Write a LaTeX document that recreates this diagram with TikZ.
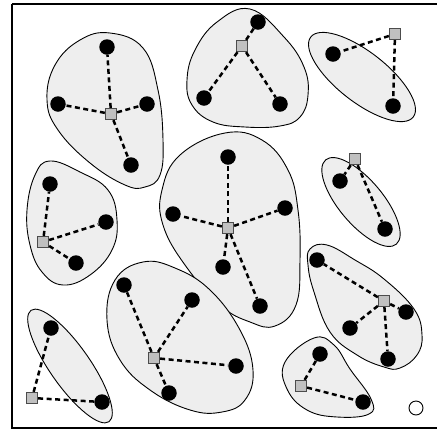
\documentclass[tikz,border=0pt]{standalone}
\usetikzlibrary{calc}
\definecolor{blobfill}{HTML}{EEEEEE}
\definecolor{hubfill}{HTML}{C0C0C0}
\tikzset{
  blob/.style={draw=black, fill=blobfill, line width=0.9pt},
  dotnode/.style={circle, fill=black, inner sep=0pt, minimum size=15.5pt},
  hub/.style={rectangle, draw=black!70, fill=hubfill, line width=0.8pt, inner sep=0pt, minimum size=11.5pt},
  link/.style={line width=2.5pt, dash pattern=on 5pt off 3.5pt},
}
\begin{document}
\begin{tikzpicture}[x=1pt,y=-1pt]
\useasboundingbox (0,0) rectangle (437,432);
\draw[line width=1.2pt] (12,4) -- (440,4) (12,4) -- (12,428) -- (440,428);
% blobs
\draw[blob] plot[smooth cycle, tension=0.7] coordinates {(110,33) (143,48) (158,90) (163,140) (160,175) (145,187) (125,185) (90,163) (58,130) (47,100) (55,65) (80,40)};
\draw[blob] plot[smooth cycle, tension=0.7] coordinates {(187,80) (195,50) (217,22) (250,9) (284,37) (304,67) (308,95) (300,117) (280,126) (245,127) (213,122) (192,105)};
\draw[blob, rotate around={-38:(362,77)}] (362,77) ellipse [x radius=65, y radius=25];
\draw[blob] plot[smooth cycle, tension=0.7] coordinates {(50,161) (80,172) (108,190) (117,220) (112,250) (90,275) (63,285) (42,272) (30,245) (27,210) (35,175)};
\draw[blob] plot[smooth cycle, tension=0.7] coordinates {(225,133) (262,140) (288,170) (298,210) (300,260) (296,305) (275,326) (250,322) (220,305) (185,265) (163,225) (162,190) (180,155)};
\draw[blob, rotate around={-50:(361,202)}] (361,202) ellipse [x radius=55, y radius=22];
\draw[blob] plot[smooth cycle, tension=0.7] coordinates {(310,249) (327,245) (355,260) (384,279) (414,309) (422,335) (417,355) (400,368) (384,367) (357,355) (330,332) (314,292) (308,265)};
\draw[blob] plot[smooth cycle, tension=0.7] coordinates {(143,262) (175,268) (210,290) (240,330) (253,370) (245,400) (222,412) (190,410) (150,390) (120,360) (107,320) (115,280)};
\draw[blob, rotate around={-55:(70,366)}] (70,366) ellipse [x radius=68, y radius=20];
\draw[blob] plot[smooth cycle, tension=0.7] coordinates {(314,338) (334,345) (350,369) (371,399) (369,414) (337,417) (307,410) (287,389) (285,362)};
% cluster 1
\node[hub] (h1) at (111,114) {};
\node[dotnode] (a1) at (107,47) {};
\node[dotnode] (a2) at (58,104) {};
\node[dotnode] (a3) at (147,104) {};
\node[dotnode] (a4) at (131,165) {};
% cluster 2
\node[hub] (h2) at (242,46) {};
\node[dotnode] (b1) at (258,22) {};
\node[dotnode] (b2) at (204,98) {};
\node[dotnode] (b3) at (280,104) {};
% cluster 3
\node[hub] (h3) at (395,34) {};
\node[dotnode] (c1) at (333,54) {};
\node[dotnode] (c2) at (393,106) {};
% cluster 4
\node[hub] (h4) at (43,242) {};
\node[dotnode] (d1) at (50,184) {};
\node[dotnode] (d2) at (106,222) {};
\node[dotnode] (d3) at (76,263) {};
% cluster 5
\node[hub] (h5) at (228,228) {};
\node[dotnode] (e1) at (228,157) {};
\node[dotnode] (e2) at (173,214) {};
\node[dotnode] (e3) at (285,208) {};
\node[dotnode] (e4) at (223,267) {};
\node[dotnode] (e5) at (260,306) {};
% cluster 6
\node[hub] (h6) at (355,159) {};
\node[dotnode] (f1) at (340,181) {};
\node[dotnode] (f2) at (385,229) {};
% cluster 7
\node[hub] (h7) at (384,301) {};
\node[dotnode] (g1) at (317,260) {};
\node[dotnode] (g2) at (406,312) {};
\node[dotnode] (g3) at (350,328) {};
\node[dotnode] (g4) at (388,359) {};
% cluster 8
\node[hub] (h8) at (154,358) {};
\node[dotnode] (k1) at (124,285) {};
\node[dotnode] (k2) at (192,300) {};
\node[dotnode] (k3) at (236,366) {};
\node[dotnode] (k4) at (169,393) {};
% cluster 9
\node[hub] (h9) at (32,398) {};
\node[dotnode] (m1) at (51,328) {};
\node[dotnode] (m2) at (102,402) {};
% cluster 10
\node[hub] (h10) at (301,386) {};
\node[dotnode] (n1) at (320,354) {};
\node[dotnode] (n2) at (363,402) {};
% links
\foreach \h/\d in {h1/a1,h1/a2,h1/a3,h1/a4,h2/b1,h2/b2,h2/b3,h3/c1,h3/c2,h4/d1,h4/d2,h4/d3,h5/e1,h5/e2,h5/e3,h5/e4,h5/e5,h6/f1,h6/f2,h7/g1,h7/g2,h7/g3,h7/g4,h8/k1,h8/k2,h8/k3,h8/k4,h9/m1,h9/m2,h10/n1,h10/n2}
  \draw[link] (\h) -- (\d);
% empty circle
\node[circle, draw=black, line width=0.9pt, minimum size=14pt, inner sep=0pt] (o) at (416,408) {};
\end{tikzpicture}
\end{document}
